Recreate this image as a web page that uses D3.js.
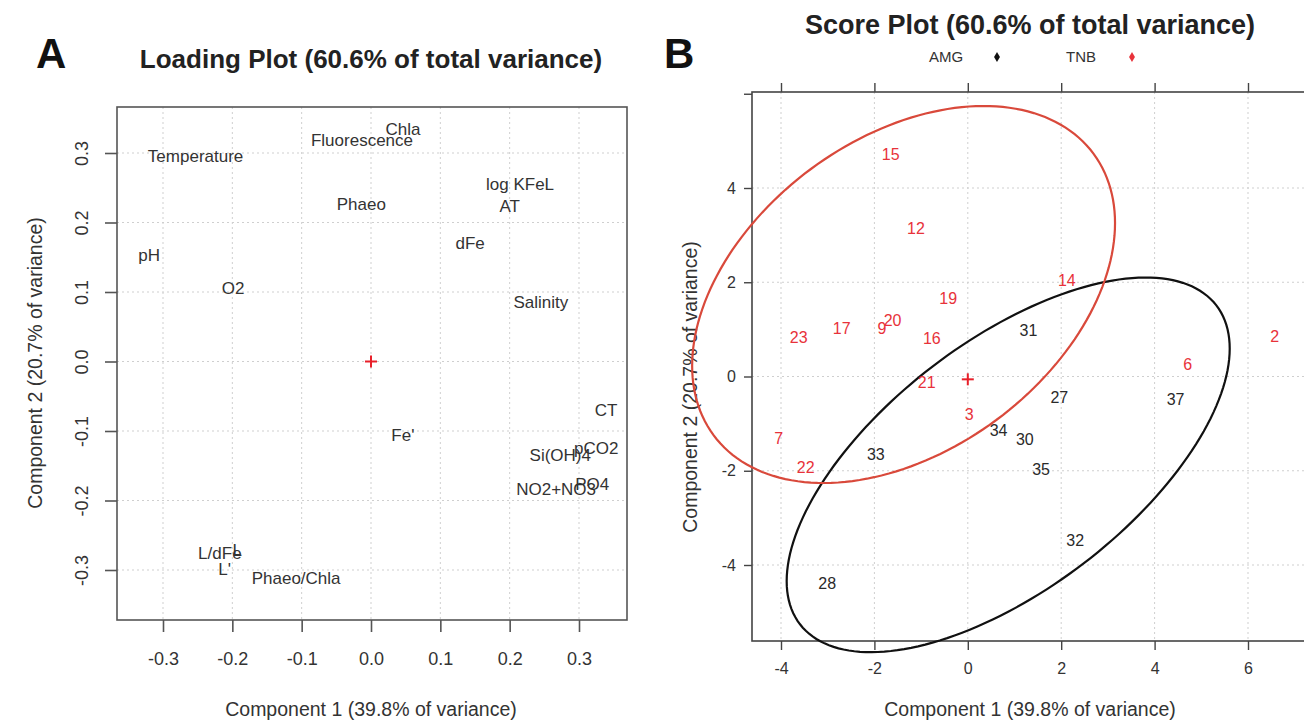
<!DOCTYPE html>
<html>
<head>
<meta charset="utf-8">
<script src="https://cdn.jsdelivr.net/npm/d3@7"></script>
<style>
  html, body { margin: 0; padding: 0; background: #fff; overflow: hidden; }
  svg { display: block; font-family: "Liberation Sans", Arial, sans-serif; }
</style>
</head>
<body>
<svg id="chart" width="1304" height="720"></svg>
<script>
// ---- Loading plot (panel A) ----
const loadingNames = ["Temperature", "Chla", "Fluorescence", "Phaeo", "log KFeL", "AT", "dFe", "pH", "O2",
  "Salinity", "CT", "Fe'", "pCO2", "Si(OH)4", "PO4", "NO2+NO3", "L/dFe", "L", "L'", "Phaeo/Chla"];
const loadingPC1 = [-0.253, 0.046, -0.013, -0.014, 0.215, 0.200, 0.143, -0.320, -0.199,
  0.245, 0.339, 0.046, 0.325, 0.273, 0.319, 0.267, -0.218, -0.193, -0.211, -0.108];
const loadingPC2 = [0.295, 0.335, 0.318, 0.227, 0.255, 0.224, 0.171, 0.153, 0.105,
  0.085, -0.070, -0.106, -0.124, -0.134, -0.177, -0.184, -0.276, -0.272, -0.298, -0.312];
const loadingTicks = [-0.3, -0.2, -0.1, 0.0, 0.1, 0.2, 0.3];
const loadingTickLabels = ["-0.3", "-0.2", "-0.1", "0.0", "0.1", "0.2", "0.3"];

// ---- Score plot (panel B) ----
const scoreIds = ["15", "12", "14", "19", "23", "17", "9", "20", "16", "2", "6", "21", "3", "7", "22",
  "31", "27", "37", "34", "30", "33", "35", "32", "28"];
const scorePC1 = [-1.65, -1.11, 2.12, -0.42, -3.62, -2.70, -1.84, -1.61, -0.77, 6.57, 4.71, -0.88, 0.03, -4.05, -3.47,
  1.30, 1.96, 4.45, 0.66, 1.22, -1.97, 1.57, 2.30, -3.01];
const scorePC2 = [4.72, 3.15, 2.04, 1.66, 0.83, 1.03, 1.03, 1.20, 0.81, 0.85, 0.25, -0.12, -0.81, -1.31, -1.92,
  0.98, -0.45, -0.49, -1.14, -1.33, -1.65, -1.97, -3.47, -4.40];
const scoreGroup = ["TNB", "TNB", "TNB", "TNB", "TNB", "TNB", "TNB", "TNB", "TNB", "TNB", "TNB", "TNB", "TNB", "TNB", "TNB",
  "AMG", "AMG", "AMG", "AMG", "AMG", "AMG", "AMG", "AMG", "AMG"];
const scoreXTicks = [-4, -2, 0, 2, 4, 6];
const scoreXTickLabels = ["-4", "-2", "0", "2", "4", "6"];
const scoreYTicks = [-4, -2, 0, 2, 4, 6];
const scoreYTickLabels = ["-4", "-2", "0", "2", "4", ""];

// group confidence ellipses: centre and covariance shape
const groups = ["AMG", "TNB"];
const ellipseCX = [0.865, -1.375];
const ellipseCY = [-1.875, 1.74];
const ellipseVX = [22.5, 20.5];
const ellipseVY = [15.8, 16.0];
const ellipseCXY = [11.7, 6.86];
const scoreCentre = [0, -0.06];

const groupColor = { AMG: "#111111", TNB: "#e8323a" };
const labelColor = { AMG: "#2a2a2a", TNB: "#e8323a" };
const ellipseColor = { AMG: "#111111", TNB: "#d9493b" };

const svg = d3.select("#chart");
const textCol = "#333";
const gridCol = "#cfcfcf";

// ================= Panel A =================
const A = { left: 117, right: 627, top: 107, bottom: 620 };
const xL = d3.scaleLinear().domain([-0.3, 0.3]).range([163, 579]);
const yL = d3.scaleLinear().domain([-0.3, 0.3]).range([570, 153]);

const gA = svg.append("g");
gA.append("text").attr("x", 36).attr("y", 68).attr("font-size", 42).attr("font-weight", "bold")
  .attr("fill", "#111").text("A");
gA.append("text").attr("x", 371).attr("y", 68).attr("text-anchor", "middle").attr("font-size", 26)
  .attr("font-weight", "bold").attr("fill", "#222").text("Loading Plot (60.6% of total variance)");

// grid
gA.selectAll("line.gx").data(loadingTicks).join("line")
  .attr("x1", d => xL(d)).attr("x2", d => xL(d)).attr("y1", A.top).attr("y2", A.bottom)
  .attr("stroke", gridCol).attr("stroke-dasharray", "2,3");
gA.selectAll("line.gy").data(loadingTicks).join("line")
  .attr("y1", d => yL(d)).attr("y2", d => yL(d)).attr("x1", A.left).attr("x2", A.right)
  .attr("stroke", gridCol).attr("stroke-dasharray", "2,3");

gA.append("rect").attr("x", A.left).attr("y", A.top).attr("width", A.right - A.left)
  .attr("height", A.bottom - A.top).attr("fill", "none").attr("stroke", "#555").attr("stroke-width", 1.6);

// axes
const axBA = gA.append("g").attr("transform", `translate(0,${A.bottom})`)
  .call(d3.axisBottom(xL).tickValues(loadingTicks).tickFormat((d, i) => loadingTickLabels[i])
    .tickSize(12).tickPadding(20));
const axLA = gA.append("g").attr("transform", `translate(${A.left},0)`)
  .call(d3.axisLeft(yL).tickValues(loadingTicks).tickFormat((d, i) => loadingTickLabels[i])
    .tickSize(12).tickPadding(8));
[axBA, axLA].forEach(ax => {
  ax.select(".domain").remove();
  ax.selectAll(".tick line").attr("stroke", "#555").attr("stroke-width", 1.6);
  ax.selectAll(".tick text").attr("font-size", 18).attr("fill", textCol).attr("font-family", null);
});
axLA.selectAll(".tick text").attr("transform", "rotate(-90)").attr("text-anchor", "middle")
  .attr("x", 0).attr("y", -35).attr("dy", "0.35em");

gA.append("text").attr("x", 371).attr("y", 716).attr("text-anchor", "middle").attr("font-size", 19.5)
  .attr("fill", textCol).text("Component 1 (39.8% of variance)");
gA.append("text").attr("transform", `translate(42,363) rotate(-90)`).attr("text-anchor", "middle")
  .attr("font-size", 19.5).attr("fill", textCol).text("Component 2 (20.7% of variance)");

// loading labels
gA.selectAll("text.load").data(loadingNames).join("text")
  .attr("x", (d, i) => xL(loadingPC1[i])).attr("y", (d, i) => yL(loadingPC2[i]))
  .attr("text-anchor", "middle").attr("dy", "0.35em").attr("font-size", 17).attr("fill", textCol)
  .text(d => d);

// origin marker
const plus = (g, cx, cy, r) => {
  g.append("line").attr("x1", cx - r).attr("x2", cx + r).attr("y1", cy).attr("y2", cy)
    .attr("stroke", "#e8202a").attr("stroke-width", 2);
  g.append("line").attr("x1", cx).attr("x2", cx).attr("y1", cy - r).attr("y2", cy + r)
    .attr("stroke", "#e8202a").attr("stroke-width", 2);
};
plus(gA, xL(0), yL(0), 6);

// ================= Panel B =================
const B = { left: 752, right: 1330, top: 92, bottom: 641 };
const xR = d3.scaleLinear().domain([-4, 6]).range([781, 1248]);
const yR = d3.scaleLinear().domain([-4, 4]).range([565, 188]);

const gB = svg.append("g");
gB.append("text").attr("x", 664).attr("y", 68).attr("font-size", 42).attr("font-weight", "bold")
  .attr("fill", "#111").text("B");
gB.append("text").attr("x", 1030).attr("y", 34).attr("text-anchor", "middle").attr("font-size", 27)
  .attr("font-weight", "bold").attr("fill", "#222").text("Score Plot (60.6% of total variance)");

// legend
const legX = [946, 1081];
const legend = gB.selectAll("g.leg").data(groups).join("g")
  .attr("transform", (d, i) => `translate(${legX[i]},57)`);
legend.append("text").attr("text-anchor", "middle").attr("dy", "0.35em").attr("font-size", 15)
  .attr("fill", textCol).text(d => d);
legend.append("path").attr("transform", "translate(51,0)")
  .attr("d", d3.symbol().type(d3.symbolDiamond).size(30)).attr("fill", d => groupColor[d]);

// grid
gB.selectAll("line.gx").data(scoreXTicks).join("line")
  .attr("x1", d => xR(d)).attr("x2", d => xR(d)).attr("y1", B.top).attr("y2", B.bottom)
  .attr("stroke", gridCol).attr("stroke-dasharray", "2,3");
gB.selectAll("line.gy").data(scoreYTicks.filter(d => d < 6)).join("line")
  .attr("y1", d => yR(d)).attr("y2", d => yR(d)).attr("x1", B.left).attr("x2", B.right)
  .attr("stroke", gridCol).attr("stroke-dasharray", "2,3");

gB.append("rect").attr("x", B.left).attr("y", B.top).attr("width", B.right - B.left)
  .attr("height", B.bottom - B.top).attr("fill", "none").attr("stroke", "#444").attr("stroke-width", 1.6);

const axBB = gB.append("g").attr("transform", `translate(0,${B.bottom})`)
  .call(d3.axisBottom(xR).tickValues(scoreXTicks).tickFormat((d, i) => scoreXTickLabels[i])
    .tickSize(9).tickPadding(13));
const axTB = gB.append("g").attr("transform", `translate(0,${B.top})`)
  .call(d3.axisTop(xR).tickValues(scoreXTicks).tickFormat("").tickSize(9));
const axLB = gB.append("g").attr("transform", `translate(${B.left},0)`)
  .call(d3.axisLeft(yR).tickValues(scoreYTicks).tickFormat((d, i) => scoreYTickLabels[i])
    .tickSize(8).tickPadding(8));
[axBB, axTB, axLB].forEach(ax => {
  ax.select(".domain").remove();
  ax.selectAll(".tick line").attr("stroke", "#444").attr("stroke-width", 1.4);
  ax.selectAll(".tick text").attr("font-size", 16).attr("fill", textCol).attr("font-family", null);
});

gB.append("text").attr("x", 1030).attr("y", 716).attr("text-anchor", "middle").attr("font-size", 19.5)
  .attr("fill", textCol).text("Component 1 (39.8% of variance)");
gB.append("text").attr("transform", `translate(697,387) rotate(-90)`).attr("text-anchor", "middle")
  .attr("font-size", 19.5).attr("fill", textCol).text("Component 2 (20.7% of variance)");

// ellipses
const line = d3.line().x(d => xR(d[0])).y(d => yR(d[1])).curve(d3.curveLinearClosed);
groups.forEach((g, k) => {
  const a = Math.sqrt(ellipseVX[k]);
  const b = ellipseCXY[k] / a;
  const c = Math.sqrt(ellipseVY[k] - b * b);
  const pts = d3.range(0, 360, 2).map(deg => {
    const t = deg * Math.PI / 180;
    return [ellipseCX[k] + a * Math.cos(t), ellipseCY[k] + b * Math.cos(t) + c * Math.sin(t)];
  });
  gB.append("path").attr("d", line(pts)).attr("fill", "none")
    .attr("stroke", ellipseColor[g]).attr("stroke-width", 2.2);
});

// score labels
gB.selectAll("text.score").data(scoreIds).join("text")
  .attr("x", (d, i) => xR(scorePC1[i])).attr("y", (d, i) => yR(scorePC2[i]))
  .attr("text-anchor", "middle").attr("dy", "0.35em").attr("font-size", 16)
  .attr("fill", (d, i) => labelColor[scoreGroup[i]])
  .text(d => d);

plus(gB, xR(scoreCentre[0]), yR(scoreCentre[1]), 6);
</script>
</body>
</html>
